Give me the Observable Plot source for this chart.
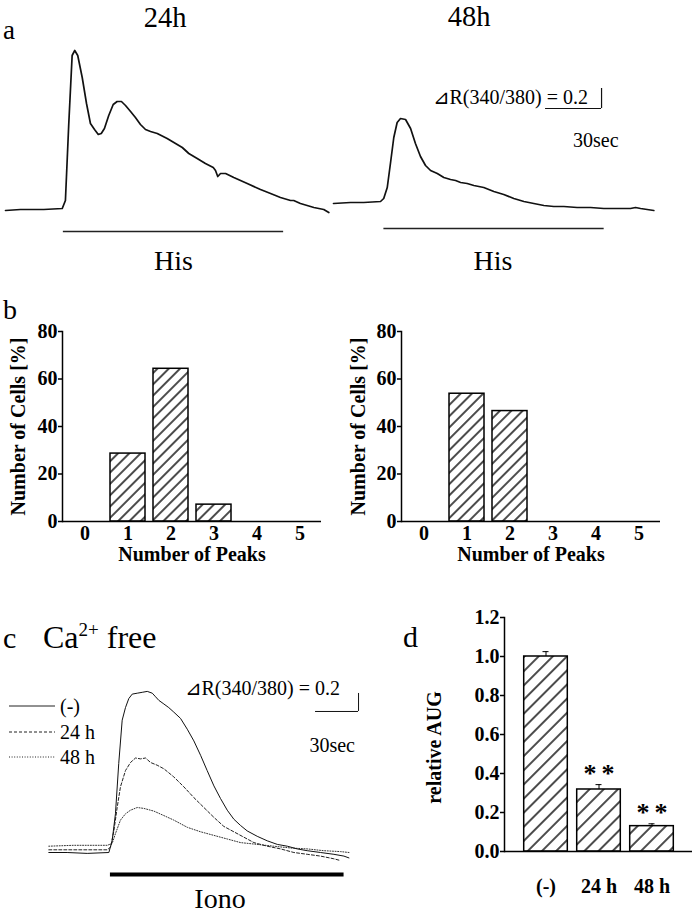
<!DOCTYPE html>
<html><head><meta charset="utf-8">
<script src="https://cdn.jsdelivr.net/npm/d3@7"></script>
<script src="https://cdn.jsdelivr.net/npm/@observablehq/plot@0.6"></script>
<style>
html,body{margin:0;padding:0;background:#fff;}
#fig{position:relative;width:696px;height:915px;overflow:hidden;background:#fff;}
</style></head>
<body><div id="fig"></div>
<script>
// ---------------- DATA ----------------
// Panel a, 24 h: time (s) and ΔR(340/380) relative to baseline
const a24Time  = [0, 8, 20.5, 30.4, 32.1, 33.9, 35.7, 37.1, 38.7, 41.1, 43.4, 45.5, 47.7, 49.7, 51.3, 53.0, 55.3, 57.7, 59.8, 62.1, 64.3, 67.0, 69.6, 72.3, 75.0, 77.7, 81.3, 86.6, 90.2, 94.7, 98.2, 102.7, 107.1, 111.3, 112.5, 113.7, 115.2, 117.9, 122.3, 129.5, 136.6, 142.0, 147.3, 152.7, 154.4, 158.0, 165.2, 170.5, 173.2];
const a24Ratio = [-0.01, 0.00, 0.00, 0.01, 0.09, 0.86, 1.54, 1.59, 1.54, 1.32, 1.06, 0.86, 0.80, 0.75, 0.76, 0.81, 0.94, 1.05, 1.08, 1.08, 1.04, 0.98, 0.92, 0.85, 0.80, 0.78, 0.76, 0.71, 0.67, 0.62, 0.56, 0.51, 0.46, 0.42, 0.39, 0.33, 0.36, 0.36, 0.32, 0.26, 0.20, 0.16, 0.12, 0.09, 0.09, 0.06, 0.02, 0.00, -0.03];
// Panel a, 48 h
const a48Time  = [0, 9.1, 16.2, 25.2, 26.9, 28.8, 30.5, 32.3, 34.1, 35.9, 38.6, 41.3, 43.9, 46.6, 49.3, 52.0, 55.6, 59.1, 62.7, 65.4, 68.1, 71.6, 75.2, 80.5, 85.9, 91.2, 96.6, 102.0, 107.3, 112.7, 118.0, 123.4, 130.5, 137.7, 144.8, 152.0, 159.1, 161.8, 164.5, 171.6];
const a48Ratio = [-0.01, 0.00, 0.00, 0.01, 0.04, 0.15, 0.39, 0.65, 0.80, 0.84, 0.83, 0.74, 0.59, 0.46, 0.37, 0.32, 0.29, 0.25, 0.23, 0.22, 0.20, 0.19, 0.17, 0.15, 0.11, 0.08, 0.04, 0.01, -0.01, -0.03, -0.04, -0.04, -0.05, -0.05, -0.06, -0.06, -0.06, -0.05, -0.06, -0.08];
const hisPeriod24 = [31, 149];   // s
const hisPeriod48 = [27, 145];   // s

// Panel b: number of peaks distribution
const peaks   = [0, 1, 2, 3, 4, 5];
const cells24 = [0, 28.6, 64.3, 7.1, 0, 0];
const cells48 = [0, 53.8, 46.5, 0, 0, 0];
const yTicksB = [0, 20, 40, 60, 80];

// Panel c: Ca2+ free, ionomycin
const cTimeSolid  = [0, 12.8, 26.8, 41.9, 44.2, 46.5, 48.8, 51.2, 53.5, 55.8, 58.2, 61.7, 65.2, 68.7, 72.2, 74.5, 76.8, 80.3, 83.7, 87.2, 91.9, 96.6, 101.2, 105.9, 110.5, 115.2, 119.8, 124.5, 129.1, 133.8, 138.4, 145.4, 152.4, 159.4, 166.4, 173.3, 180.3, 189.6, 198.9, 205.9, 209.4];
const cSolid      = [0.00, 0.00, -0.01, 0.00, 0.13, 0.43, 0.99, 1.47, 1.61, 1.71, 1.76, 1.77, 1.78, 1.79, 1.77, 1.73, 1.69, 1.65, 1.61, 1.56, 1.49, 1.37, 1.24, 1.08, 0.91, 0.74, 0.60, 0.47, 0.37, 0.30, 0.24, 0.18, 0.13, 0.09, 0.07, 0.04, 0.02, 0.00, -0.02, -0.04, -0.06];
const cTimeDashed = [0, 17.4, 40.7, 43.1, 45.4, 47.7, 50.0, 53.5, 57.0, 60.5, 64.0, 67.5, 71.0, 75.6, 80.3, 87.2, 94.2, 101.2, 108.2, 115.2, 122.1, 129.1, 136.1, 143.1, 152.4, 161.7, 171.0, 180.3, 189.6, 198.9, 203.6];
const cDashed     = [0.03, 0.03, 0.03, 0.06, 0.24, 0.50, 0.73, 0.91, 1.00, 1.05, 1.04, 1.05, 1.00, 0.97, 0.93, 0.84, 0.73, 0.61, 0.50, 0.39, 0.29, 0.23, 0.17, 0.11, 0.07, 0.04, 0.00, -0.02, -0.04, -0.07, -0.09];
const cTimeDotted = [0, 17.4, 40.7, 44.2, 46.5, 50.0, 53.5, 57.0, 61.7, 66.3, 73.3, 80.3, 87.2, 96.6, 105.9, 115.2, 124.5, 133.8, 145.4, 157.0, 168.7, 180.3, 191.9, 203.6, 209.4];
const cDotted     = [0.07, 0.08, 0.08, 0.10, 0.21, 0.36, 0.43, 0.47, 0.50, 0.49, 0.46, 0.41, 0.36, 0.28, 0.23, 0.19, 0.15, 0.11, 0.09, 0.07, 0.05, 0.04, 0.02, 0.01, 0.00];
const ionoPeriod  = [43, 206];   // s
const legendNames = ["(-)", "24 h", "48 h"];

// Panel d: relative AUG
const groups  = ["(-)", "24 h", "48 h"];
const aucMean = [1.00, 0.318, 0.130];
const aucErr  = [0.025, 0.025, 0.012];
const signif  = ["", "*\u2009*", "*\u2009*"];
const yTicksD = [0, 0.2, 0.4, 0.6, 0.8, 1.0, 1.2];

// scale bars
const scaleSec = 30, scaleRatio = 0.2;

// ---------------- LAYOUT (page pixels) ----------------
const W = 696, H = 915;
const FONT = "'Liberation Serif','Times New Roman',Times,serif";
const L = {
  a24: {x: [5, 61], y: [209, 189], stimY: -0.22},
  a48: {x: [333, 389], y: [202, 182], stimY: -0.26, sbEnd: 143.6, sbY: 0.94},
  c:   {x: [48.3, 91.3], y: [852, 834], stimY: -0.244, sbEnd: 216.1, sbY: 1.567},
  b24: {left: 62, right: 321, top: 331, bottom: 521, labelDx: -44},
  b48: {left: 401, right: 660, top: 331, bottom: 521, labelDx: -43},
  d:   {left: 504, right: 692, top: 617, bottom: 851}
};
const baseStyle = `position:absolute;left:0;top:0;background:transparent;overflow:visible;font-family:${FONT};font-size:20px;font-weight:bold;color:#000;`;
const axisFont = {fontFamily: FONT, fontSize: 20, fontWeight: "bold"};
const fig = document.getElementById("fig");

// hatch patterns
const defsSvg = d3.create("svg").attr("width", 0).attr("height", 0).style("position", "absolute");
const defs = defsSvg.append("defs");
function hatch(id, s) {
  const p = defs.append("pattern").attr("id", id).attr("patternUnits", "userSpaceOnUse")
    .attr("width", s).attr("height", s).attr("patternTransform", "rotate(45)");
  p.append("rect").attr("width", s).attr("height", s).attr("fill", "white");
  p.append("line").attr("x1", s / 2).attr("x2", s / 2).attr("y1", -1).attr("y2", s + 1)
    .attr("stroke", "black").attr("stroke-width", 1.4);
}
hatch("hatchB", 8);
hatch("hatchD", 10);
fig.append(defsSvg.node());

// ---------- Panel a: 24 h ----------
fig.append(Plot.plot({
  width: W, height: H, margin: 0, style: baseStyle,
  x: {domain: [0, scaleSec], range: L.a24.x, axis: null},
  y: {domain: [0, scaleRatio], range: L.a24.y, axis: null},
  marks: [
    Plot.line(a24Ratio, {x: a24Time, y: a24Ratio, stroke: "#111", strokeWidth: 1.7}),
    Plot.ruleY([L.a24.stimY], {x1: hisPeriod24[0], x2: hisPeriod24[1], stroke: "#222", strokeWidth: 1.3})
  ]
}));

// ---------- Panel a: 48 h ----------
fig.append(Plot.plot({
  width: W, height: H, margin: 0, style: baseStyle,
  x: {domain: [0, scaleSec], range: L.a48.x, axis: null},
  y: {domain: [0, scaleRatio], range: L.a48.y, axis: null},
  marks: [
    Plot.line(a48Ratio, {x: a48Time, y: a48Ratio, stroke: "#111", strokeWidth: 1.7}),
    Plot.ruleY([L.a48.stimY], {x1: hisPeriod48[0], x2: hisPeriod48[1], stroke: "#222", strokeWidth: 1.3}),
    Plot.ruleY([L.a48.sbY], {x1: L.a48.sbEnd - scaleSec, x2: L.a48.sbEnd, stroke: "#111", strokeWidth: 1.2}),
    Plot.ruleX([L.a48.sbEnd], {y1: L.a48.sbY, y2: L.a48.sbY + scaleRatio, stroke: "#111", strokeWidth: 1.2})
  ]
}));

// ---------- Panel b ----------
function histPlot(G, values) {
  return Plot.plot({
    width: W, height: H, style: baseStyle,
    marginLeft: G.left, marginRight: W - G.right, marginTop: G.top, marginBottom: H - G.bottom,
    x: {domain: peaks, padding: 0},
    y: {domain: [0, 80]},
    marks: [
      Plot.barY(values, {x: peaks, y: values, filter: (d) => d > 0, fill: "url(#hatchB)", stroke: "black", strokeWidth: 1.5, insetLeft: 4, insetRight: 4}),
      Plot.ruleY([0], {stroke: "black", strokeWidth: 1.5}),
      Plot.frame({anchor: "left", stroke: "black", strokeWidth: 1.5}),
      Plot.axisY({ticks: yTicksB, tickSize: 4, tickPadding: 1, strokeWidth: 1.5, label: null, ...axisFont}),
      Plot.axisX({tickSize: 0, tickPadding: 4, label: null, ...axisFont}),
      Plot.text(["Number of Cells [%]"], {text: (d) => d, frameAnchor: "left", textAnchor: "middle", lineAnchor: "middle", dx: G.labelDx, rotate: -90, fontSize: 20, fontFamily: FONT, fontWeight: "bold"}),
      Plot.text(["Number of Peaks"], {text: (d) => d, frameAnchor: "bottom", textAnchor: "middle", dy: 39, lineAnchor: "bottom", fontSize: 20, fontFamily: FONT, fontWeight: "bold"})
    ]
  });
}
fig.append(histPlot(L.b24, cells24));
fig.append(histPlot(L.b48, cells48));

// ---------- Panel c ----------
fig.append(Plot.plot({
  width: W, height: H, margin: 0, style: baseStyle,
  x: {domain: [0, scaleSec], range: L.c.x, axis: null},
  y: {domain: [0, scaleRatio], range: L.c.y, axis: null},
  marks: [
    Plot.line(cDotted, {x: cTimeDotted, y: cDotted, stroke: "#333", strokeWidth: 1, strokeDasharray: "1,1.6"}),
    Plot.line(cDashed, {x: cTimeDashed, y: cDashed, stroke: "#222", strokeWidth: 1, strokeDasharray: "3,2"}),
    Plot.line(cSolid, {x: cTimeSolid, y: cSolid, stroke: "#111", strokeWidth: 1}),
    Plot.ruleY([L.c.stimY], {x1: ionoPeriod[0], x2: ionoPeriod[1], stroke: "#000", strokeWidth: 4}),
    Plot.ruleY([L.c.sbY], {x1: L.c.sbEnd - scaleSec, x2: L.c.sbEnd, stroke: "#111", strokeWidth: 1}),
    Plot.ruleX([L.c.sbEnd], {y1: L.c.sbY, y2: L.c.sbY + scaleRatio, stroke: "#111", strokeWidth: 1})
  ]
}));

// ---------- Panel d ----------
const aucTop = aucMean.map((m, i) => m + aucErr[i]);
fig.append(Plot.plot({
  width: W, height: H, style: baseStyle,
  marginLeft: L.d.left, marginRight: W - L.d.right, marginTop: L.d.top, marginBottom: H - L.d.bottom,
  x: {domain: groups, paddingInner: 0, paddingOuter: 0.26},
  y: {domain: [0, 1.2]},
  marks: [
    Plot.barY(aucMean, {x: groups, y: aucMean, fill: "url(#hatchD)", stroke: "black", strokeWidth: 1.5, insetLeft: 4.7, insetRight: 4.7}),
    Plot.ruleX(aucMean, {x: groups, y1: aucMean, y2: aucTop, stroke: "black", strokeWidth: 1}),
    Plot.tickY(aucMean, {x: groups, y: aucTop, insetLeft: 23.5, insetRight: 23.5, stroke: "black", strokeWidth: 1}),
    Plot.text(aucMean, {x: groups, y: aucTop, text: signif, dy: -11, fontSize: 26, fontFamily: FONT, fontWeight: "bold"}),
    Plot.ruleY([0], {stroke: "black", strokeWidth: 1.5}),
    Plot.frame({anchor: "left", stroke: "black", strokeWidth: 1.5}),
    Plot.axisY({ticks: yTicksD, tickFormat: d3.format(".1f"), tickSize: 4, tickPadding: 1, strokeWidth: 1.5, label: null, ...axisFont}),
    Plot.axisX({tickSize: 0, tickPadding: 27, label: null, ...axisFont}),
    Plot.text(["relative AUG"], {text: (d) => d, frameAnchor: "left", textAnchor: "middle", lineAnchor: "middle", dx: -70, dy: 13, rotate: -90, fontSize: 20, fontFamily: FONT, fontWeight: "bold"})
  ]
}));

// ---------- Annotations (panel letters, titles, stimulus & scale labels, legend) ----------
const annotations = [
  {text: "a", x: 3, y: 39, size: 27},
  {text: "24h", x: 165, y: 26.5, size: 28.5, anchor: "middle"},
  {text: "48h", x: 469, y: 26, size: 28.5, anchor: "middle"},
  {text: "His", x: 173.5, y: 270, size: 28, anchor: "middle"},
  {text: "His", x: 493, y: 270, size: 28, anchor: "middle"},
  {text: "⊿R(340/380) = 0.2", x: 588, y: 104, size: 20, anchor: "end"},
  {text: "30sec", x: 573, y: 147, size: 20},
  {text: "b", x: 3, y: 319, size: 28},
  {text: "c", x: 3, y: 648, size: 30},
  {text: "d", x: 403, y: 647, size: 30},
  {text: "⊿R(340/380) = 0.2", x: 340, y: 695, size: 20, anchor: "end"},
  {text: "30sec", x: 355, y: 752, size: 20, anchor: "end"},
  {text: "Iono", x: 220, y: 908, size: 28, anchor: "middle"}
];
const ov = d3.create("svg").attr("width", W).attr("height", H).attr("viewBox", `0 0 ${W} ${H}`)
  .style("position", "absolute").style("left", "0").style("top", "0")
  .attr("font-family", FONT).attr("fill", "black");
for (const a of annotations) {
  ov.append("text").attr("x", a.x).attr("y", a.y).attr("font-size", a.size)
    .attr("text-anchor", a.anchor || "start").text(a.text);
}
const ca = ov.append("text").attr("x", 43).attr("y", 648).attr("font-size", 32);
ca.append("tspan").text("Ca");
ca.append("tspan").attr("font-size", 19).attr("dy", -12).text("2+");
ca.append("tspan").attr("dy", 12).text(" free");

const legendY = [706, 732, 757];
const legendDash = [null, "3,2", "1,1.6"];
legendNames.forEach((name, i) => {
  ov.append("line").attr("x1", 9).attr("x2", 55).attr("y1", legendY[i]).attr("y2", legendY[i])
    .attr("stroke", "#222").attr("stroke-width", 1).attr("stroke-dasharray", legendDash[i]);
  ov.append("text").attr("x", 60).attr("y", legendY[i] + 7).attr("font-size", 20).text(name);
});
fig.append(ov.node());
</script>
</body></html>
